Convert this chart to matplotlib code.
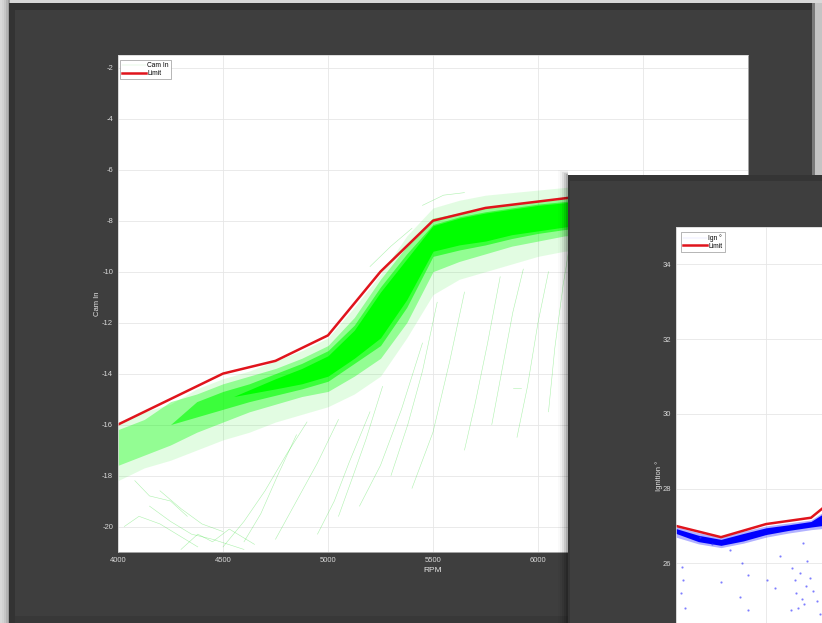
import matplotlib
matplotlib.use("Agg")
import matplotlib.pyplot as plt
from matplotlib.patches import Rectangle
from matplotlib.lines import Line2D

plt.rcParams["font.family"] = ["Liberation Sans", "DejaVu Sans"]
plt.rcParams["axes.unicode_minus"] = False

# ---------------------------
# Data read off the two figure windows
# ---------------------------

# Cam In vs RPM: limit line
cam_limit_rpm = [4000, 4500, 4750, 5000, 5250, 5500, 5750, 6000, 6250, 6500]
cam_limit = [-16.0, -14.0, -13.5, -12.5, -10.0, -8.0, -7.5, -7.25, -7.0, -6.8]

# Cam In logged traces, summarised as bands (outer faint, middle, core, dense core)
cam_rpm = [4000, 4125, 4250, 4375, 4500, 4625, 4750, 4875, 5000, 5125,
           5250, 5375, 5500, 5625, 5750, 5875, 6000, 6125, 6250]
cam_outer_hi = [-15.9, -15.5, -15.2, -14.6, -14.2, -13.9, -13.5, -13.1, -12.6, -11.4,
                -10.1, -8.6, -7.5, -7.2, -7.0, -6.9, -6.8, -6.7, -6.6]
cam_outer_lo = [-18.2, -17.7, -17.4, -17.0, -16.6, -16.3, -15.9, -15.6, -15.3, -14.8,
                -14.1, -12.6, -10.9, -10.3, -10.0, -9.7, -9.4, -9.2, -9.1]
cam_mid_hi = [-16.2, -15.8, -15.1, -14.8, -14.4, -14.1, -13.8, -13.4, -12.9, -11.8,
              -10.3, -9.0, -7.9, -7.7, -7.5, -7.35, -7.25, -7.15, -7.05]
cam_mid_lo = [-17.6, -17.2, -16.8, -16.3, -15.9, -15.5, -15.2, -14.9, -14.7, -14.1,
              -13.4, -12.0, -10.0, -9.6, -9.3, -9.0, -8.8, -8.6, -8.5]
cam_core_rpm = [4250, 4375, 4500, 4625, 4750, 4875, 5000, 5125, 5250, 5375, 5500, 5625,
                5750, 5875, 6000, 6125, 6250]
cam_core_hi = [-16.0, -15.1, -14.7, -14.4, -14.0, -13.6, -13.1, -12.1, -10.6, -9.3, -8.15,
               -7.85, -7.65, -7.5, -7.35, -7.25, -7.15]
cam_core_lo = [-16.0, -15.7, -15.4, -15.1, -14.85, -14.6, -14.3, -13.6, -12.9, -11.4, -9.4,
               -9.15, -8.95, -8.7, -8.5, -8.35, -8.25]
cam_dense_rpm = [4550, 4750, 4875, 5000, 5125, 5250, 5375, 5500, 5625, 5750, 5875, 6000,
                 6125, 6250]
cam_dense_hi = [-14.9, -14.2, -13.8, -13.3, -12.3, -10.8, -9.5, -8.2, -7.9, -7.7, -7.55,
                -7.4, -7.3, -7.2]
cam_dense_lo = [-14.9, -14.6, -14.4, -14.1, -13.4, -12.6, -11.1, -9.2, -8.95, -8.8, -8.55,
                -8.4, -8.25, -8.15]

# a few stray traces away from the main band
cam_strays = [
    ([4030, 4100, 4200, 4300, 4380], [-20.0, -19.6, -19.9, -20.4, -20.8]),
    ([4150, 4250, 4350, 4450, 4600], [-19.2, -19.8, -20.3, -20.5, -20.9]),
    ([4200, 4300, 4400, 4500], [-18.6, -19.3, -19.9, -20.2]),
    ([4080, 4150, 4250, 4330], [-18.2, -18.8, -19.0, -19.6]),
    ([4300, 4380, 4450, 4530, 4650], [-20.9, -20.3, -20.6, -20.1, -20.7]),
    ([4500, 4600, 4700, 4800, 4900], [-20.8, -19.8, -18.6, -17.2, -15.9]),
    ([4600, 4680, 4760, 4850], [-20.6, -19.5, -18.0, -16.4]),
    ([4750, 4850, 4950, 5050], [-20.5, -19.0, -17.5, -15.8]),
    ([4950, 5030, 5100, 5200], [-20.3, -19.0, -17.5, -15.5]),
    ([5050, 5120, 5180, 5260], [-19.6, -18.0, -16.6, -14.5]),
    ([5150, 5250, 5350, 5450], [-19.2, -17.6, -15.4, -12.8]),
    ([5300, 5380, 5450, 5520], [-18.0, -16.0, -13.9, -11.2]),
    ([5400, 5500, 5580, 5650], [-18.5, -16.3, -13.5, -10.8]),
    ([5650, 5700, 5760, 5820], [-17.0, -15.2, -12.8, -10.2]),
    ([5780, 5830, 5880, 5930], [-16.0, -13.8, -11.6, -9.9]),
    ([5900, 5950, 6000, 6050], [-16.5, -14.5, -12.0, -10.0]),
    ([6050, 6080, 6120, 6150], [-15.5, -13.0, -10.5, -9.0]),
    ([5200, 5300, 5400], [-9.8, -9.0, -8.3]),
    ([5450, 5550, 5650], [-7.4, -7.0, -6.9]),
    ([5880, 5920], [-14.55, -14.55]),
]

# Ignition vs RPM: limit line and logged band
ign_limit_rpm = [4000, 4250, 4500, 4750, 5000]
ign_limit = [27.0, 26.7, 27.05, 27.22, 28.2]

ign_rpm = [4000, 4125, 4250, 4375, 4500, 4625, 4750, 4875]
ign_outer_hi = [26.98, 26.82, 26.7, 26.86, 27.0, 27.08, 27.16, 27.55]
ign_outer_lo = [26.7, 26.52, 26.42, 26.54, 26.7, 26.81, 26.9, 26.96]
ign_core_hi = [26.93, 26.75, 26.64, 26.8, 26.95, 27.03, 27.12, 27.5]
ign_core_lo = [26.8, 26.58, 26.48, 26.6, 26.77, 26.88, 26.97, 27.05]

ign_dot_rpm = [4033, 4040, 4028, 4050, 4133, 4200, 4367, 4400, 4356, 4400, 4506,
               4550, 4644, 4660, 4667, 4680, 4640, 4728, 4744, 4761, 4783, 4800,
               4706, 4300, 4250, 4580, 4700, 4712, 4724, 4690]
ign_dot_val = [25.9, 25.55, 25.2, 24.8, 26.7, 26.53, 26.0, 25.7, 25.1, 24.75, 25.55,
               25.35, 25.88, 25.55, 25.2, 24.8, 24.75, 26.07, 25.6, 25.27, 25.0, 24.65,
               26.55, 26.35, 25.5, 26.2, 25.05, 24.9, 25.4, 25.75]

# ---------------------------
# Layout helpers (pixel coordinates, origin top-left)
# ---------------------------
W, H = 822, 623


def frac(x0, y0, x1, y1):
    return [x0 / W, 1 - y1 / H, (x1 - x0) / W, (y1 - y0) / H]


def window_rect(fig, x0, y0, x1, y1, color, z, alpha=1.0):
    l, b, w, h = frac(x0, y0, x1, y1)
    fig.add_artist(Rectangle((l, b), w, h, transform=fig.transFigure,
                             facecolor=color, edgecolor="none", zorder=z, alpha=alpha))


def style_axes(ax):
    ax.set_facecolor("white")
    ax.grid(True, color="#e6e6e6", lw=0.6)
    ax.set_axisbelow(True)
    ax.tick_params(length=0, labelsize=5.5, labelcolor="#d8d8d8", pad=3.5)
    for s in ax.spines.values():
        s.set_color("#cfcfcf")
        s.set_linewidth(0.5)


fig = plt.figure(figsize=(W / 100, H / 100), dpi=100)
fig.patch.set_facecolor("#d9d9d9")

# ---- window 1 ----
for i, c in enumerate(["#d2d2d2", "#c6c6c6", "#b4b4b4", "#9c9c9c"]):
    window_rect(fig, 2 + 2 * i, 0, 10, H, c, -5)
window_rect(fig, 9, 3, 814, H, "#333333", -4)
window_rect(fig, 15, 10, 812, 616, "#3e3e3e", -3)
window_rect(fig, 15, 616, 812, H, "#383838", -3)
window_rect(fig, 812, 3, 822, 175, "#c4c4c4", -4)
window_rect(fig, 812, 3, 815, 175, "#7a7a7a", -4)

ax1 = fig.add_axes(frac(118, 55, 748, 552), zorder=1)
style_axes(ax1)

for xs, ys in cam_strays:
    ax1.plot(xs, ys, color="#33dd33", lw=0.4, alpha=0.4)
ax1.fill_between(cam_rpm, cam_outer_lo, cam_outer_hi, color="#22ee22", alpha=0.13, lw=0)
ax1.fill_between(cam_rpm, cam_mid_lo, cam_mid_hi, color="#00ff00", alpha=0.35, lw=0)
ax1.fill_between(cam_core_rpm, cam_core_lo, cam_core_hi, color="#00ff00", alpha=0.6, lw=0)
ax1.fill_between(cam_dense_rpm, cam_dense_lo, cam_dense_hi, color="#00ff00", lw=0)
ax1.plot(cam_limit_rpm, cam_limit, color="#e0141c", lw=1.8)

ax1.set_xlim(4000, 7000)
ax1.set_ylim(-21, -1.5)
ax1.set_xticks(range(4000, 7001, 500))
ax1.set_yticks(range(-20, -1, 2))
ax1.set_xlabel("RPM", fontsize=6, color="#e4e4e4")
ax1.set_ylabel("Cam In", fontsize=5.5, color="#e4e4e4")
ax1.xaxis.set_label_coords(0.5, -0.038)
ax1.yaxis.set_label_coords(-0.032, 0.5)
ax1.yaxis.label.set_va("center")
ax1.xaxis.label.set_va("center")

handles1 = [Line2D([], [], color="#c8f5c8", lw=0.3), Line2D([], [], color="#e0141c", lw=1.8)]
leg1 = ax1.legend(handles1, ["Cam In", "Limit"], loc="upper left",
                  bbox_to_anchor=(2 / 630, 1 - 5 / 497), borderaxespad=0,
                  fontsize=4.8, handlelength=3.6, handletextpad=0.15,
                  labelspacing=0.1, borderpad=0.35, fancybox=False,
                  framealpha=1, edgecolor="#999999")
leg1.get_frame().set_linewidth(0.5)

# ---- window 2 (overlapping, with soft left shadow) ----
for i, a in enumerate([0.02, 0.04, 0.07, 0.1, 0.14]):
    window_rect(fig, 558 + 2 * i, 170 + i, 568, H, "#000000", 2, alpha=a)
window_rect(fig, 568, 175, W, H, "#353535", 3)
window_rect(fig, 570, 181, W, H, "#3e3e3e", 3)

ax2 = fig.add_axes(frac(676, 227, 1306, 724), zorder=4)
style_axes(ax2)
ax2.tick_params(labelbottom=False)

ax2.plot(ign_dot_rpm, ign_dot_val, marker=".", ms=1.2, color="#3a3aff", alpha=0.6, ls="none")
ax2.fill_between(ign_rpm, ign_outer_lo, ign_outer_hi, color="#0000ff", alpha=0.3, lw=0)
ax2.fill_between(ign_rpm, ign_core_lo, ign_core_hi, color="#0000ff", lw=0)
ax2.plot(ign_limit_rpm, ign_limit, color="#e0141c", lw=1.8)

ax2.set_xlim(4000, 7500)
ax2.set_ylim(21.7, 35.0)
ax2.set_xticks(range(4000, 7501, 500))
ax2.set_yticks(range(26, 35, 2))
ax2.set_ylabel("Ignition °", fontsize=5.5, color="#e4e4e4")
ax2.yaxis.set_label_coords(-0.026, 0.5)
ax2.yaxis.label.set_va("center")

handles2 = [Line2D([], [], color="#d8d8ff", lw=0.3), Line2D([], [], color="#e0141c", lw=1.8)]
leg2 = ax2.legend(handles2, ["Ign °", "Limit"], loc="upper left",
                  bbox_to_anchor=(5 / 630, 1 - 5 / 497), borderaxespad=0,
                  fontsize=4.8, handlelength=3.6, handletextpad=0.15,
                  labelspacing=0.1, borderpad=0.35, fancybox=False,
                  framealpha=1, edgecolor="#999999")
leg2.get_frame().set_linewidth(0.5)

fig.savefig("out.png", dpi=100, facecolor=fig.get_facecolor())
